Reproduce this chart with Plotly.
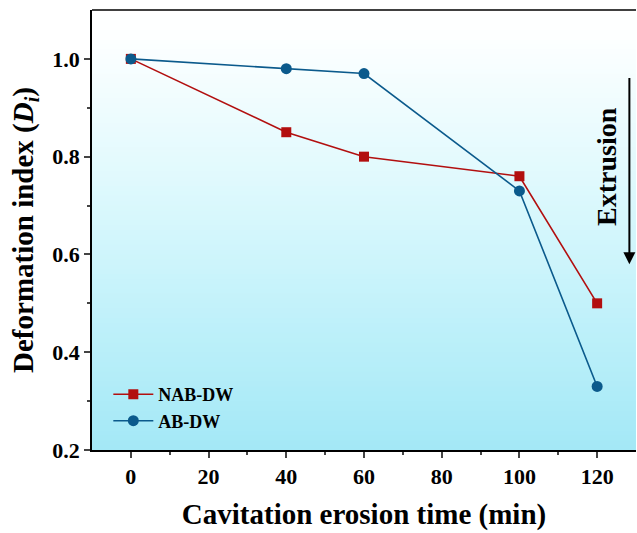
import plotly.graph_objects as go

time_min = [0, 40, 60, 100, 120]
nab_dw = [1.0, 0.85, 0.80, 0.76, 0.50]
ab_dw = [1.0, 0.98, 0.97, 0.73, 0.33]
x_ticks = [0, 20, 40, 60, 80, 100, 120]
y_ticks = [0.2, 0.4, 0.6, 0.8, 1.0]

RED = "#B20F0F"
BLUE = "#0B5A8C"
FONT = "Liberation Serif"

fig = go.Figure()
fig.add_trace(go.Scatter(x=time_min, y=nab_dw, name="NAB-DW", mode="lines+markers",
                         line=dict(color=RED, width=1.6),
                         marker=dict(symbol="square", size=10, color=RED)))
fig.add_trace(go.Scatter(x=time_min, y=ab_dw, name="AB-DW", mode="lines+markers",
                         line=dict(color=BLUE, width=1.6),
                         marker=dict(symbol="circle", size=11, color=BLUE)))

# gradient background bands (piecewise colour stops, t measured from top)
stops = [(0.0, (255, 255, 255)), (0.06, (253, 255, 255)), (0.4, (222, 249, 253)),
         (0.7, (192, 241, 250)), (1.0, (163, 232, 246))]


def grad(t):
    for (t0, c0), (t1, c1) in zip(stops[:-1], stops[1:]):
        if t <= t1:
            f = (t - t0) / (t1 - t0)
            return tuple(round(c0[k] + (c1[k] - c0[k]) * f) for k in range(3))
    return stops[-1][1]


shapes = []
n = 90
for i in range(n):
    y1 = 1 - i / n
    y0 = 1 - (i + 1) / n
    c = grad((i + 0.5) / n)
    shapes.append(dict(type="rect", xref="paper", yref="paper", x0=0, x1=1, y0=y0 - 0.002, y1=y1,
                       fillcolor="rgb(%d,%d,%d)" % c, line=dict(width=0), layer="below"))
# top border line
shapes.append(dict(type="line", xref="paper", yref="paper", x0=0, x1=1, y0=1, y1=1,
                   line=dict(color="black", width=1.5)))

fig.update_layout(
    width=637, height=533,
    margin=dict(l=92, r=1, t=10, b=83, autoexpand=False),
    paper_bgcolor="white", plot_bgcolor="rgba(0,0,0,0)",
    shapes=shapes,
    showlegend=True,
    legend=dict(x=0.03, y=0.168, xanchor="left", yanchor="top", bgcolor="rgba(0,0,0,0)",
                font=dict(family=FONT, size=18, color="black", weight="bold"),
                tracegroupgap=0, itemwidth=40),
    font=dict(family=FONT, color="black"),
)
fig.update_xaxes(range=[-10, 130], tickvals=x_ticks, ticks="outside", ticklen=6, tickwidth=1.5,
                 showline=True, linecolor="black", linewidth=1.5, showgrid=False, zeroline=False,
                 automargin=False,
                 tickfont=dict(family=FONT, size=22, color="black", weight="bold"),
                 minor=dict(tickvals=[10, 30, 50, 70, 90, 110], ticks="outside", ticklen=3, tickwidth=1.5),
                 title=dict(text="Cavitation erosion time (min)", standoff=16,
                            font=dict(family=FONT, size=29, color="black", weight="bold")))
fig.update_yaxes(range=[0.2, 1.1], tickvals=y_ticks, tickformat=".1f", ticks="outside", ticklen=6, tickwidth=1.5,
                 showline=True, linecolor="black", linewidth=1.5, showgrid=False, zeroline=False,
                 automargin=False,
                 tickfont=dict(family=FONT, size=22, color="black", weight="bold"),
                 minor=dict(tickvals=[0.3, 0.5, 0.7, 0.9], ticks="outside", ticklen=3, tickwidth=1.5),
                 title=dict(text="Deformation index (<i>D</i><sub><i>i</i></sub>)", standoff=10,
                            font=dict(family=FONT, size=29, color="black", weight="bold")))

fig.add_annotation(x=128.3, y=0.58, ax=128.3, ay=0.966, xref="x", yref="y", axref="x", ayref="y",
                   showarrow=True, arrowhead=2, arrowsize=1.2, arrowwidth=2, arrowcolor="black",
                   text=" ", font=dict(size=2))
fig.add_annotation(x=122.4, y=0.78, xref="x", yref="y", text="Extrusion", textangle=-90, showarrow=False,
                   font=dict(family=FONT, size=28, color="black", weight="bold"))

fig.write_html("out.html", config={"displayModeBar": False},
               post_script="document.body.style.margin='0';document.body.style.overflow='hidden';")
